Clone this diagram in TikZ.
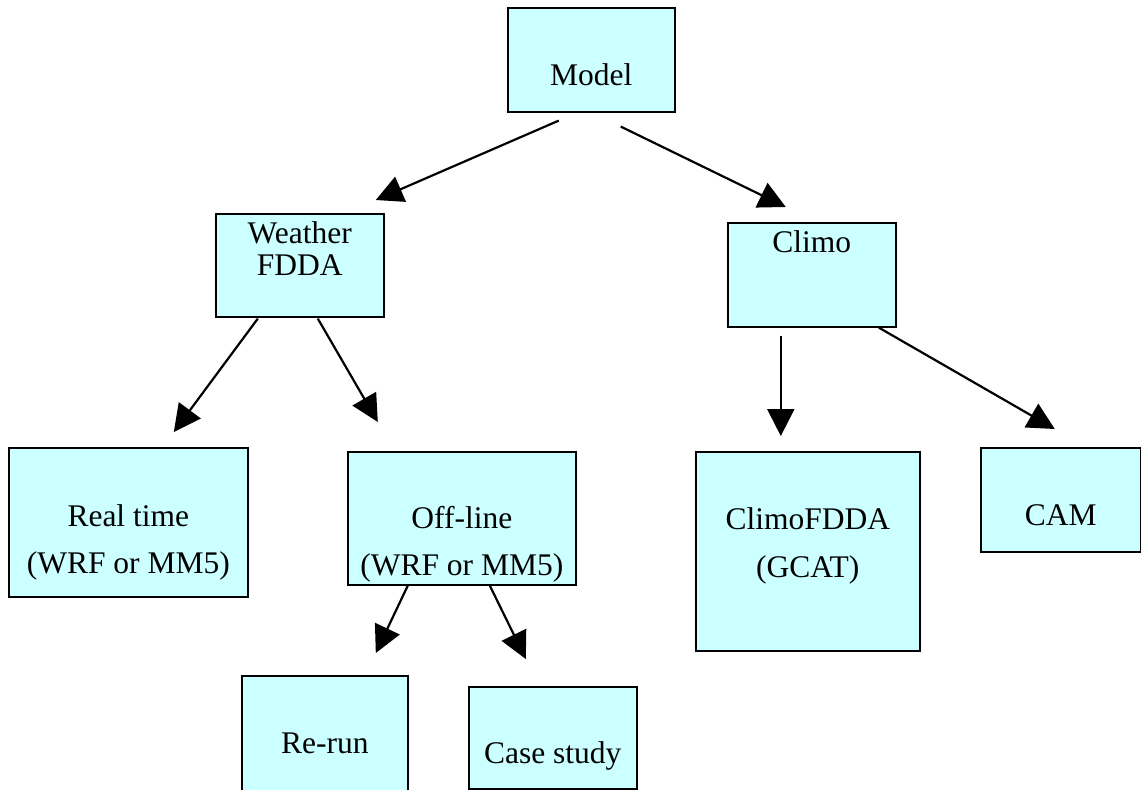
\documentclass[tikz,border=0pt]{standalone}
\usepackage{fontspec}
\setmainfont{Liberation Serif}
\usetikzlibrary{arrows.meta,positioning,calc}
\definecolor{boxcyan}{RGB}{204,255,255}

\begin{document}
\begin{tikzpicture}[x=1pt,y=-1pt]

\tikzstyle{cell} = [rectangle, draw=black, line width=1.6pt, fill=boxcyan, inner sep=0pt, anchor=north west, align=center, font=\fontsize{31.5}{32}\selectfont]
\tikzstyle{arrow} = [line width=2.2pt,-{Triangle[length=27pt,width=27pt]}]

\useasboundingbox (0,0) rectangle (1141,790);

%% -------------
%% -- TOP ROW --
%% -------------

\node (model) [cell, minimum width=167pt, text height=78pt, text depth=26pt] at (507,7) {Model};

% Weather / Climo
\node (weather_fdda) [cell, minimum width=168pt, text height=62pt, text depth=41pt] at (215,213) {Weather\\FDDA};
\node (climo) [cell, minimum width=168pt, text height=30pt, text depth=74pt] at (727,222) {Climo};

\draw [arrow] ([shift={(-32.5,8)}]model.south) -- ([shift={(76,-13)}]weather_fdda.north);
\draw [arrow] ([shift={(29.5,14)}]model.south) -- ([shift={(-26,-15)}]climo.north);

%% ----------------
%% -- MIDDLE ROW --
%% ----------------

\node (real_time) [cell, minimum width=239pt, text height=126pt, text depth=23pt] at (8,447) {Real time\\[15pt](WRF or MM5)};
\node (off_line) [cell, minimum width=228pt, text height=124pt, text depth=9pt] at (347,451) {Off-line\\[15pt](WRF or MM5)};
\node (climo_fdda) [cell, minimum width=224pt, text height=126pt, text depth=73pt] at (695,451) {ClimoFDDA\\[16pt](GCAT)};
\node (cam) [cell, minimum width=160pt, text height=78pt, text depth=26pt] at (980,447) {CAM};

\draw [arrow] ([shift={(-42,1)}]weather_fdda.south) -- ([shift={(45.5,-15)}]real_time.north);
\draw [arrow] ([shift={(18,1)}]weather_fdda.south) -- ([shift={(-84,-29)}]off_line.north);
\draw [arrow] ([shift={(-31,8)}]climo.south) -- ([shift={(-27,-15)}]climo_fdda.north);
\draw [arrow] ([shift={(67,0)}]climo.south) -- ([shift={(-6,-18)}]cam.north);

%% ----------------
%% -- BOTTOM ROW --
%% ----------------

\node (re_run) [cell, minimum width=166pt, text height=78pt, text depth=47pt] at (241,675) {Re-run};
\node (case_study) [cell, minimum width=168pt, text height=77pt, text depth=25pt] at (468,686) {Case study};

\draw [arrow] ([shift={(-54,0)}]off_line.south) -- ([shift={(51,-22)}]re_run.north);
\draw [arrow] ([shift={(28,0)}]off_line.south) -- ([shift={(-27,-27)}]case_study.north);

\end{tikzpicture}
\end{document}
